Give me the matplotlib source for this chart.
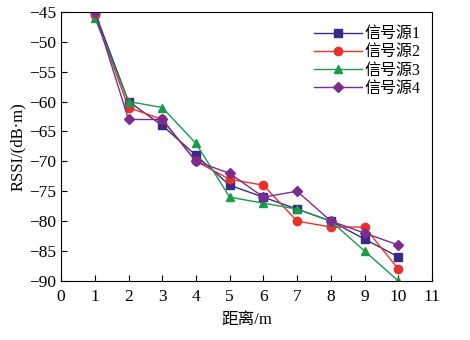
import matplotlib
matplotlib.use("Agg")
import matplotlib.pyplot as plt

plt.rcParams['font.family'] = ['Liberation Serif', 'Noto Sans CJK SC']
plt.rcParams['axes.unicode_minus'] = True

distance = [1, 2, 3, 4, 5, 6, 7, 8, 9, 10]
src1 = [-45, -60, -64, -69, -74, -76, -78, -80, -83, -86]
src2 = [-45.5, -61, -63, -70, -73, -74, -80, -81, -81, -88]
src3 = [-46, -60, -61, -67, -76, -77, -78, -80, -85, -90]
src4 = [-45, -63, -63, -70, -72, -76, -75, -80, -82, -84]
labels = ['信号源1', '信号源2', '信号源3', '信号源4']
xticks = list(range(0, 12))
yticks = list(range(-90, -44, 5))

fig = plt.figure(figsize=(4.7, 3.4), dpi=100)
ax = fig.add_axes([0.13, 0.174, 0.789, 0.791])

styles = [('#3a2a85', 's'), ('#e8312a', 'o'), ('#1a9a4a', '^'), ('#7b2d8e', 'D')]
for data, lab, (c, m) in zip([src1, src2, src3, src4], labels, styles):
    ax.plot(distance, data, color=c, marker=m, markersize=6 if m != 'D' else 5.5,
            linewidth=1.0, label=lab)

ax.set_xlim(0, 11)
ax.set_ylim(-90, -45)
ax.set_xticks(xticks)
ax.set_yticks(yticks)
ax.tick_params(direction='in', labelsize=12.5, length=4, width=0.8)
ax.tick_params(axis='x', pad=6)
ax.set_xlabel('距离/m', fontsize=12, labelpad=5)
ax.set_ylabel('RSSI/(dB·m)', fontsize=12, labelpad=2)
for s in ax.spines.values():
    s.set_linewidth(0.8)

ax.legend(loc='upper right', bbox_to_anchor=(1.0, 0.988), frameon=False, fontsize=11.5,
          handlelength=3.0, labelspacing=0.13, handletextpad=0.2, borderaxespad=0.3)

fig.savefig('out.png', dpi=100)
